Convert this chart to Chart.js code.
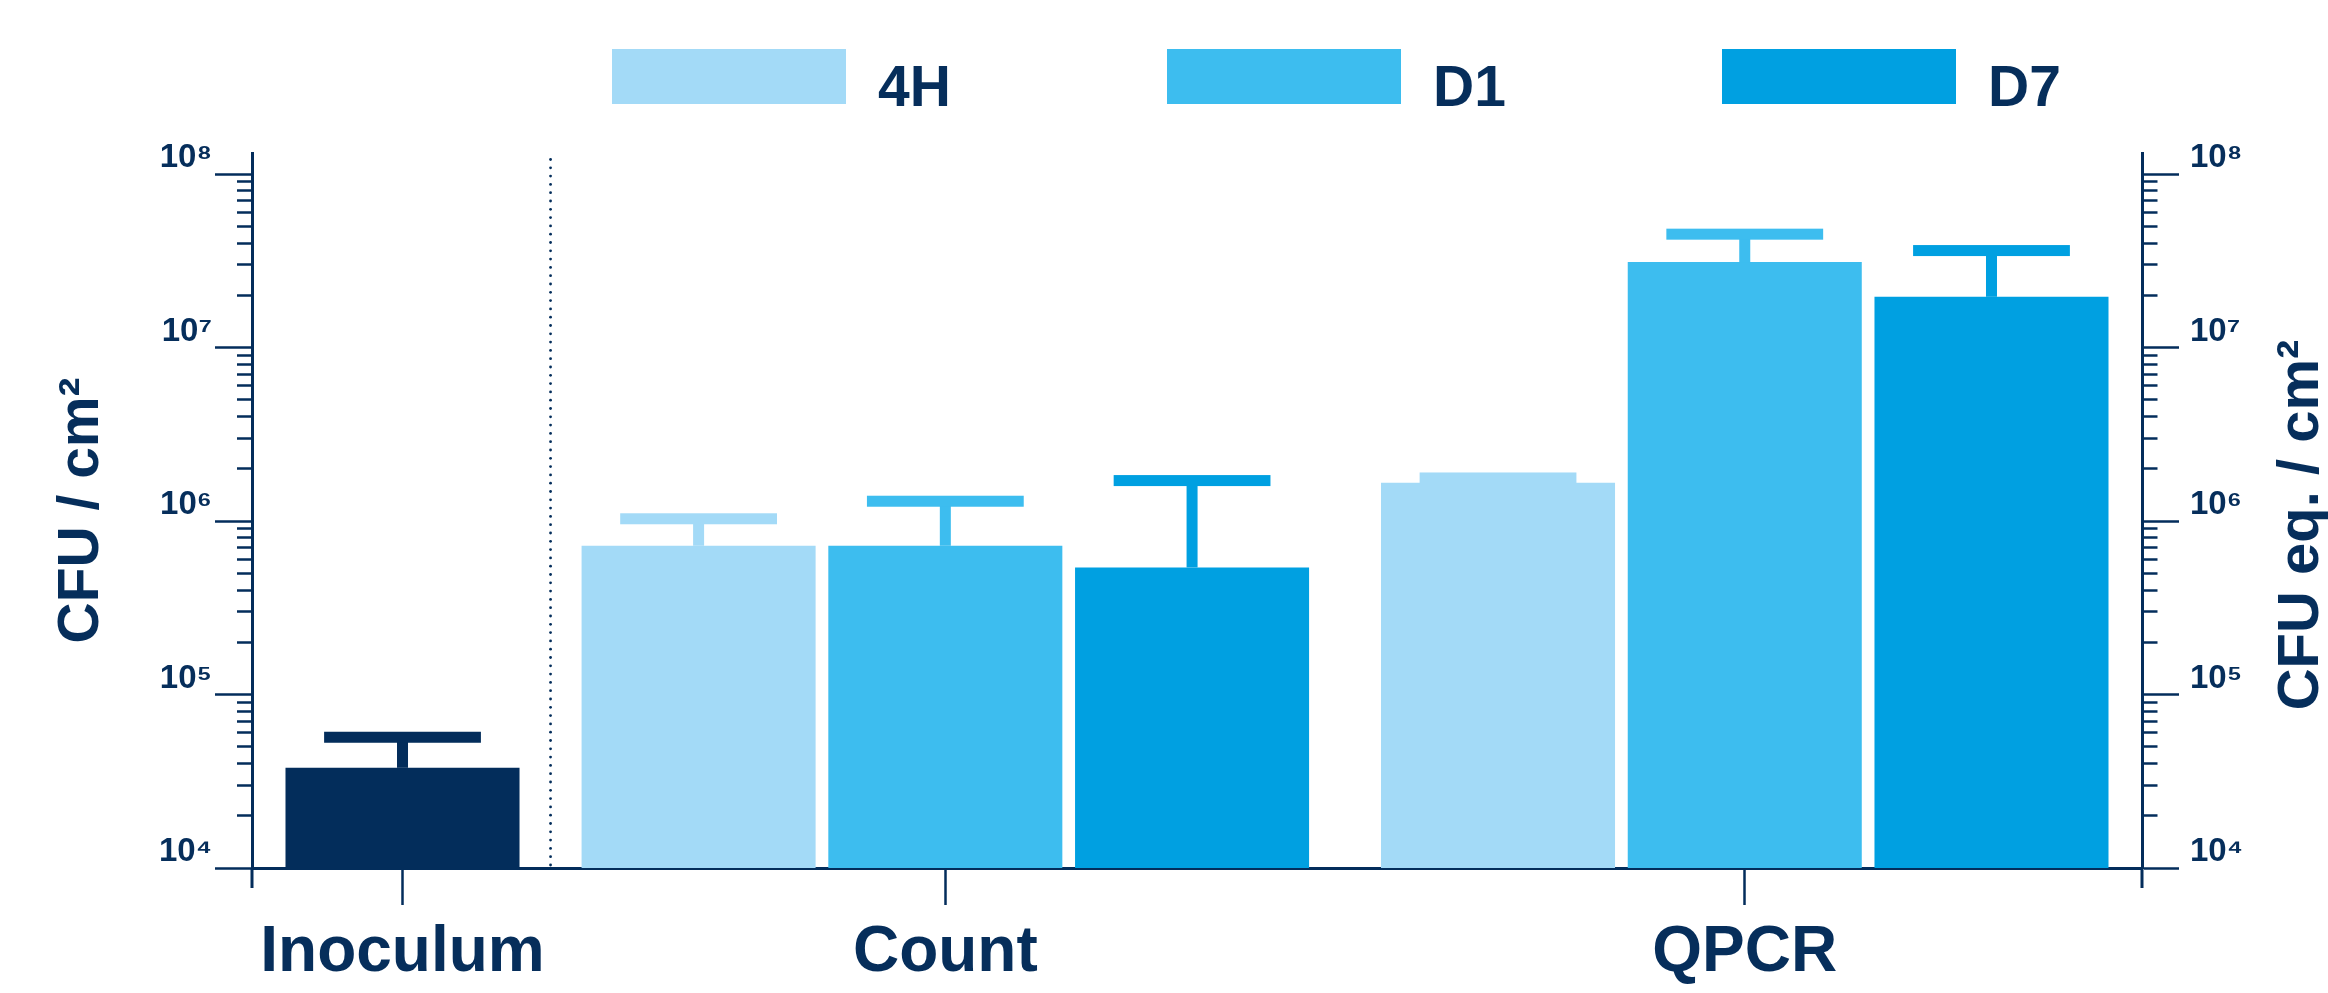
<!DOCTYPE html>
<html>
<head>
<meta charset="utf-8">
<title>CFU chart</title>
<script src="https://cdn.jsdelivr.net/npm/chart.js@4.4.1/dist/chart.umd.min.js"></script>
<style>
  body { margin: 0; background: #fff; }
  #wrap { position: relative; width: 2328px; height: 993px; }
  #legend { position: absolute; left: 612px; top: 49px; display: flex; }
  .item { width: 555px; display: flex; align-items: flex-start; }
  .swatch { width: 234px; height: 55px; }
  .name { margin-left: 32px; font: bold 57px 'Liberation Sans', sans-serif;
          line-height: 55px; position: relative; top: 10px; color: #062e5b; }
</style>
</head>
<body>
<div id="wrap">
  <canvas id="chart" width="2328" height="993"></canvas>
  <div id="legend"></div>
</div>
<script>
// chart data
const groups = ['Inoculum', 'Count', 'QPCR'];
const seriesNames = ['4H', 'D1', 'D7'];
const seriesColors = ['#a3daf7', '#3dbdef', '#00a0e1'];
const inoculumMean = [3.78e4];
const inoculumUpper = [5.67e4];
const countMean = [7.2e5, 7.2e5, 5.4e5];
const countUpper = [1.03e6, 1.3e6, 1.71e6];
const qpcrMean = [1.66e6, 3.11e7, 1.96e7];
const qpcrUpper = [1.77e6, 4.5e7, 3.62e7];
const yTicks = [1e4, 1e5, 1e6, 1e7, 1e8];

const NAVY = '#032d5b';
const TEXT = '#062e5b';
const FONT = "'Liberation Sans', sans-serif";

// bar slots: one slot per bar, a little extra space between groups
const groupSizes = [1, seriesNames.length, seriesNames.length];
const groupGaps = [0, 0.2, 0.24];
const barPos = [];
let slot = 0;
groupSizes.forEach((n, g) => {
    slot += groupGaps[g];
    const row = [];
    for (let i = 0; i < n; i++) row.push(slot + i);
    barPos.push(row);
    slot += n;
});
const groupCenters = barPos.map(r => (r[0] + r[r.length - 1]) / 2);
const xMin = -0.61;
const xMax = slot - 1 + 0.61;

const SUP = { '0': '⁰', '1': '¹', '2': '²', '3': '³', '4': '⁴', '5': '⁵', '6': '⁶', '7': '⁷', '8': '⁸', '9': '⁹' };
const isDecade = v => yTicks.includes(v);

// all ticks 1..9 x 10^n between first and last decade
function logTicks(scale) {
    const ticks = [];
    for (let d = 0; d < yTicks.length - 1; d++) {
        for (let m = 1; m < 10; m++) ticks.push({ value: m * yTicks[d] });
    }
    ticks.push({ value: yTicks[yTicks.length - 1] });
    scale.ticks = ticks;
}

function yLabel(value) {
    if (!isDecade(value)) return '';
    const e = String(Math.round(Math.log10(value)));
    return '10' + e.split('').map(c => SUP[c]).join('');
}

function yAxis(position, width) {
    return {
        type: 'logarithmic',
        position: position,
        min: yTicks[0],
        max: yTicks[yTicks.length - 1] * Math.pow(10, 21 / 173.5),
        afterBuildTicks: logTicks,
        afterFit: s => { s.width = width; },
        border: { display: true, color: NAVY, width: 3 },
        grid: {
            drawOnChartArea: false,
            tickLength: 37,
            tickWidth: 2.5,
            tickColor: NAVY,
            tickBorderDash: ctx => isDecade(ctx.tick.value) ? [] :
                (position === 'left' ? [0, 22, 20] : [13.5, 40])
        },
        ticks: {
            autoSkip: false,
            padding: position === 'left' ? 3 : 11,
            labelOffset: -16,
            color: TEXT,
            font: { family: FONT, size: 33, weight: 'bold' },
            callback: yLabel
        }
    };
}

const datasets = [{
    label: groups[0],
    data: inoculumMean.map((v, i) => ({ x: barPos[0][i], y: v })),
    upper: inoculumUpper,
    backgroundColor: NAVY
}];
seriesNames.forEach((name, s) => {
    datasets.push({
        label: name,
        data: [{ x: barPos[1][s], y: countMean[s] }, { x: barPos[2][s], y: qpcrMean[s] }],
        upper: [countUpper[s], qpcrUpper[s]],
        backgroundColor: seriesColors[s]
    });
});

// error bars (upper only), same colour as the bar
const errorBars = {
    id: 'errorBars',
    afterDatasetsDraw(chart) {
        const { ctx } = chart;
        const y = chart.scales.y;
        chart.data.datasets.forEach((ds, d) => {
            chart.getDatasetMeta(d).data.forEach((bar, i) => {
                const top = y.getPixelForValue(ds.upper[i]);
                const capW = bar.width * 0.67;
                ctx.save();
                ctx.fillStyle = ds.backgroundColor;
                ctx.fillRect(bar.x - 5.5, top, 11, bar.y - top);
                ctx.fillRect(bar.x - capW / 2, top - 5.5, capW, 11);
                ctx.restore();
            });
        });
    }
};

// dotted separator, axis tails and the right hand title
const decorations = {
    id: 'decorations',
    afterDraw(chart) {
        const { ctx, chartArea } = chart;
        const x = chart.scales.x.getPixelForValue((barPos[0][0] + barPos[1][0]) / 2);
        ctx.save();
        ctx.fillStyle = NAVY;
        for (let yy = chartArea.bottom - 3; yy > chartArea.top + 5; yy -= 8.3) {
            ctx.beginPath();
            ctx.arc(x, yy, 1.4, 0, Math.PI * 2);
            ctx.fill();
        }
        ctx.strokeStyle = NAVY;
        ctx.lineWidth = 3;
        [chartArea.left, chartArea.right].forEach(px => {
            ctx.beginPath();
            ctx.moveTo(px, chartArea.bottom);
            ctx.lineTo(px, chartArea.bottom + 20);
            ctx.stroke();
        });
        ctx.translate(2302, 525);
        ctx.rotate(-Math.PI / 2);
        ctx.fillStyle = TEXT;
        ctx.font = 'bold 58px ' + FONT;
        ctx.textAlign = 'center';
        ctx.textBaseline = 'middle';
        ctx.fillText('CFU eq. / cm²', 0, 0);
        ctx.restore();
    }
};

new Chart(document.getElementById('chart'), {
    type: 'bar',
    data: { datasets: datasets },
    options: {
        responsive: false,
        devicePixelRatio: 1,
        animation: false,
        layout: { padding: { top: 153, right: 51, left: 0, bottom: 0 } },
        datasets: { bar: { grouped: false, categoryPercentage: 1, barPercentage: 0.9485 } },
        plugins: { legend: { display: false }, tooltip: { enabled: false } },
        scales: {
            x: {
                type: 'linear',
                min: xMin,
                max: xMax,
                offset: false,
                afterBuildTicks: s => { s.ticks = groupCenters.map(v => ({ value: v })); },
                afterFit: s => { s.height = 125; },
                border: { display: true, color: NAVY, width: 3 },
                grid: { drawOnChartArea: false, offset: false, tickLength: 37, tickWidth: 2.5, tickColor: NAVY },
                ticks: {
                    autoSkip: false,
                    maxRotation: 0,
                    padding: 10,
                    color: TEXT,
                    font: { family: FONT, size: 64, weight: 'bold' },
                    callback: (v, i) => groups[i]
                }
            },
            y: Object.assign(yAxis('left', 252), {
                title: {
                    display: true,
                    text: 'CFU / cm²',
                    color: TEXT,
                    padding: { top: 48 },
                    font: { family: FONT, size: 57, weight: 'bold' }
                }
            }),
            y2: yAxis('right', 135)
        }
    },
    plugins: [errorBars, decorations]
});

// html legend for the three time points
const legend = document.getElementById('legend');
seriesNames.forEach((name, s) => {
    const item = document.createElement('div');
    item.className = 'item';
    const sw = document.createElement('div');
    sw.className = 'swatch';
    sw.style.background = seriesColors[s];
    const label = document.createElement('div');
    label.className = 'name';
    label.textContent = name;
    item.appendChild(sw);
    item.appendChild(label);
    legend.appendChild(item);
});
</script>
</body>
</html>
